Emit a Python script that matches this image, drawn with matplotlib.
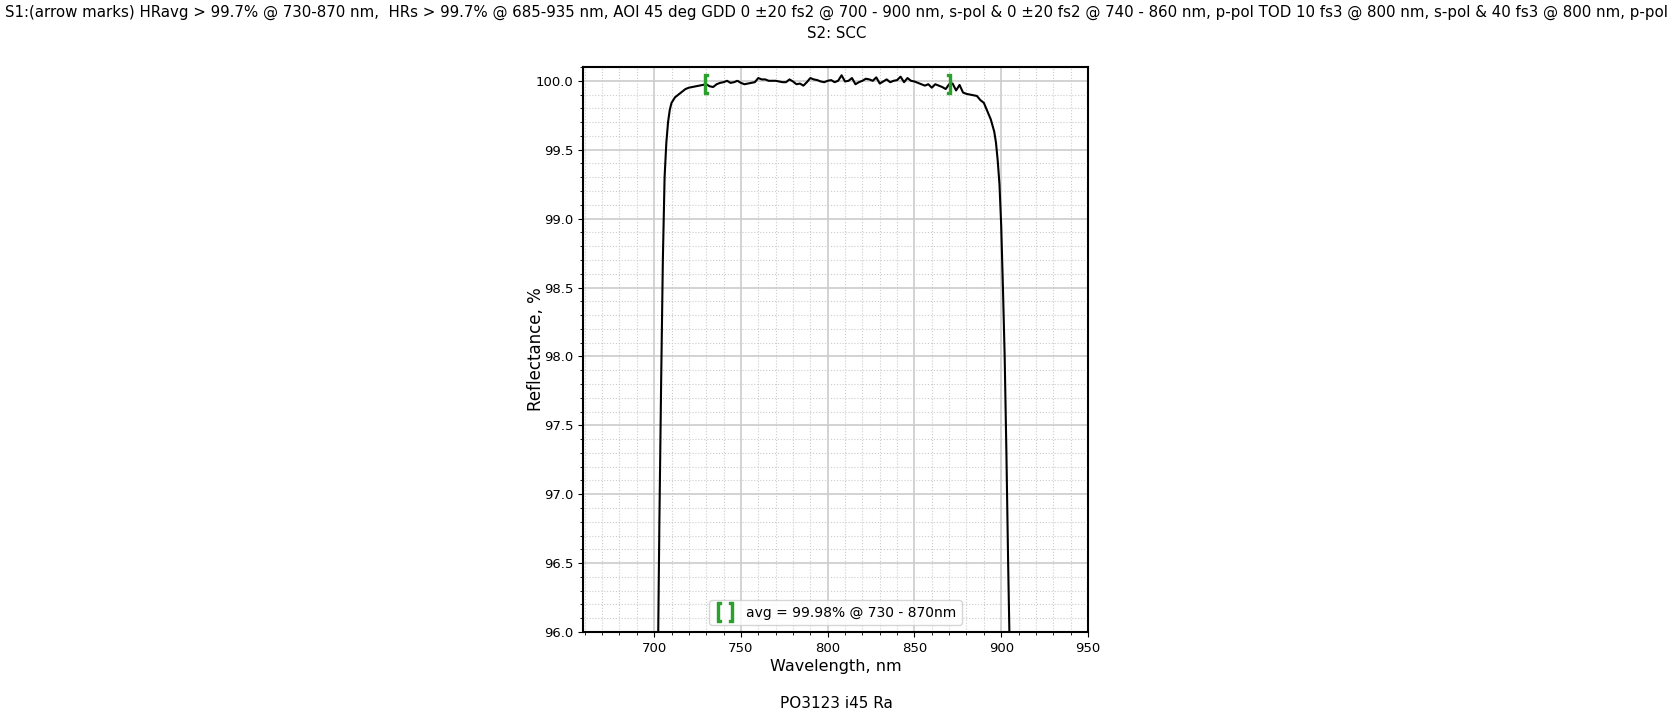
import matplotlib
matplotlib.use("Agg")
import matplotlib.pyplot as plt
from matplotlib.ticker import MultipleLocator, FormatStrFormatter
from matplotlib.lines import Line2D

# reflectance curve
wl = [700, 701, 702, 703, 704, 705, 706, 707, 708, 709, 710,
      712, 714, 716, 718, 720, 722, 724, 726, 728, 730, 732, 734, 736, 738,
      740, 742, 744, 746, 748, 750, 752, 754, 756, 758, 760, 762, 764, 766,
      768, 770, 772, 774, 776, 778, 780, 782, 784, 786, 788, 790, 792, 794,
      796, 798, 800, 802, 804, 806, 808, 810, 812, 814, 816, 818, 820, 822,
      824, 826, 828, 830, 832, 834, 836, 838, 840, 842, 844, 846, 848, 850,
      852, 854, 856, 858, 860, 862, 864, 866, 868, 870, 872, 874, 876, 878,
      880, 882, 884, 886, 888, 890, 892, 894, 896, 897, 898, 899, 900, 901,
      902, 903, 904, 905, 906, 907]
refl = [92.0, 94.0, 95.6, 96.8, 97.8, 98.7, 99.3, 99.55, 99.7, 99.79, 99.84,
        99.88, 99.9, 99.92, 99.94, 99.95, 99.955, 99.96, 99.965, 99.97, 99.975,
        99.96, 99.955, 99.975, 99.985, 99.99, 100.0, 99.985, 99.99, 100.0,
        99.985, 99.975, 99.98, 99.985, 99.99, 100.02, 100.01, 100.01, 100.0,
        100.0, 100.0, 99.995, 99.99, 99.99, 100.01, 99.995, 99.975, 99.98,
        99.965, 99.99, 100.02, 100.01, 100.005, 99.995, 99.99, 100.0, 100.005,
        99.99, 100.0, 100.04, 99.995, 100.0, 100.02, 99.975, 99.99, 100.0,
        100.015, 100.01, 100.0, 100.025, 99.98, 99.995, 100.01, 99.99, 100.0,
        100.005, 100.03, 99.99, 100.02, 100.0, 99.995, 99.985, 99.975, 99.965,
        99.975, 99.95, 99.975, 99.965, 99.955, 99.94, 99.975, 99.98, 99.93,
        99.97, 99.915, 99.905, 99.9, 99.895, 99.89, 99.86, 99.84, 99.78, 99.72,
        99.63, 99.55, 99.42, 99.25, 98.95, 98.5, 98.0, 97.3, 96.5, 95.8, 94.5,
        92.0]

avg_range = [730, 870]
avg_val = 99.98

title = ("S1:(arrow marks) HRavg > 99.7% @ 730-870 nm,  HRs > 99.7% @ 685-935 nm, "
         "AOI 45 deg GDD 0 \u00b120 fs2 @ 700 - 900 nm, s-pol & 0 \u00b120 fs2 @ 740 - 860 nm, "
         "p-pol TOD 10 fs3 @ 800 nm, s-pol & 40 fs3 @ 800 nm, p-pol\nS2: SCC")

fig = plt.figure(figsize=(16.73, 7.16), dpi=100)
ax = fig.add_axes([0.3485, 0.1173, 0.3018, 0.7891])

ax.plot(wl, refl, color="black", lw=1.5)

# bracket marks at the averaging range
y730 = refl[wl.index(730)]
y870 = refl[wl.index(870)]
ax.plot([730], [y730], marker="$[$", color="#2ca02c", ms=14, ls="none")
ax.plot([870], [y870], marker="$]$", color="#2ca02c", ms=14, ls="none")

ax.set_xlim(659, 950)
ax.set_ylim(96.0, 100.1)
ax.xaxis.set_major_locator(MultipleLocator(50))
ax.xaxis.set_minor_locator(MultipleLocator(10))
ax.yaxis.set_major_locator(MultipleLocator(0.5))
ax.yaxis.set_minor_locator(MultipleLocator(0.1))
ax.yaxis.set_major_formatter(FormatStrFormatter("%.1f"))
ax.grid(which="major", color="#cccccc", lw=1.2)
ax.grid(which="minor", color="#cccccc", lw=0.8, ls=":")
for s in ax.spines.values():
    s.set_linewidth(1.5)
ax.tick_params(labelsize=9.5)

ax.set_xlabel("Wavelength, nm", fontsize=11.5, labelpad=3)
ax.set_ylabel("Reflectance, %", fontsize=12)
ax.yaxis.set_label_coords(-0.075, 0.5)

h = Line2D([], [], marker=r"$[\,]$", color="#2ca02c", ls="none", ms=14)
ax.legend([h], ["avg = %.2f%% @ %d - %dnm" % (avg_val, avg_range[0], avg_range[1])],
          loc="lower center", handlelength=1.5, bbox_to_anchor=(0.5, 0.0),
          fontsize=10)

t = fig.text(0.5, 1 - 5 / 716, title, ha="center", va="top", fontsize=14,
             linespacing=1.5)
fig.text(0.5, 0.017, "PO3123 i45 Ra", ha="center", va="center", fontsize=11)

# shrink the long title so it fits the figure width
r = fig.canvas.get_renderer()
w = t.get_window_extent(r).width
target = fig.bbox.width * 0.995
if w > target:
    t.set_fontsize(14 * target / w)

fig.savefig("out.png", dpi=100)
